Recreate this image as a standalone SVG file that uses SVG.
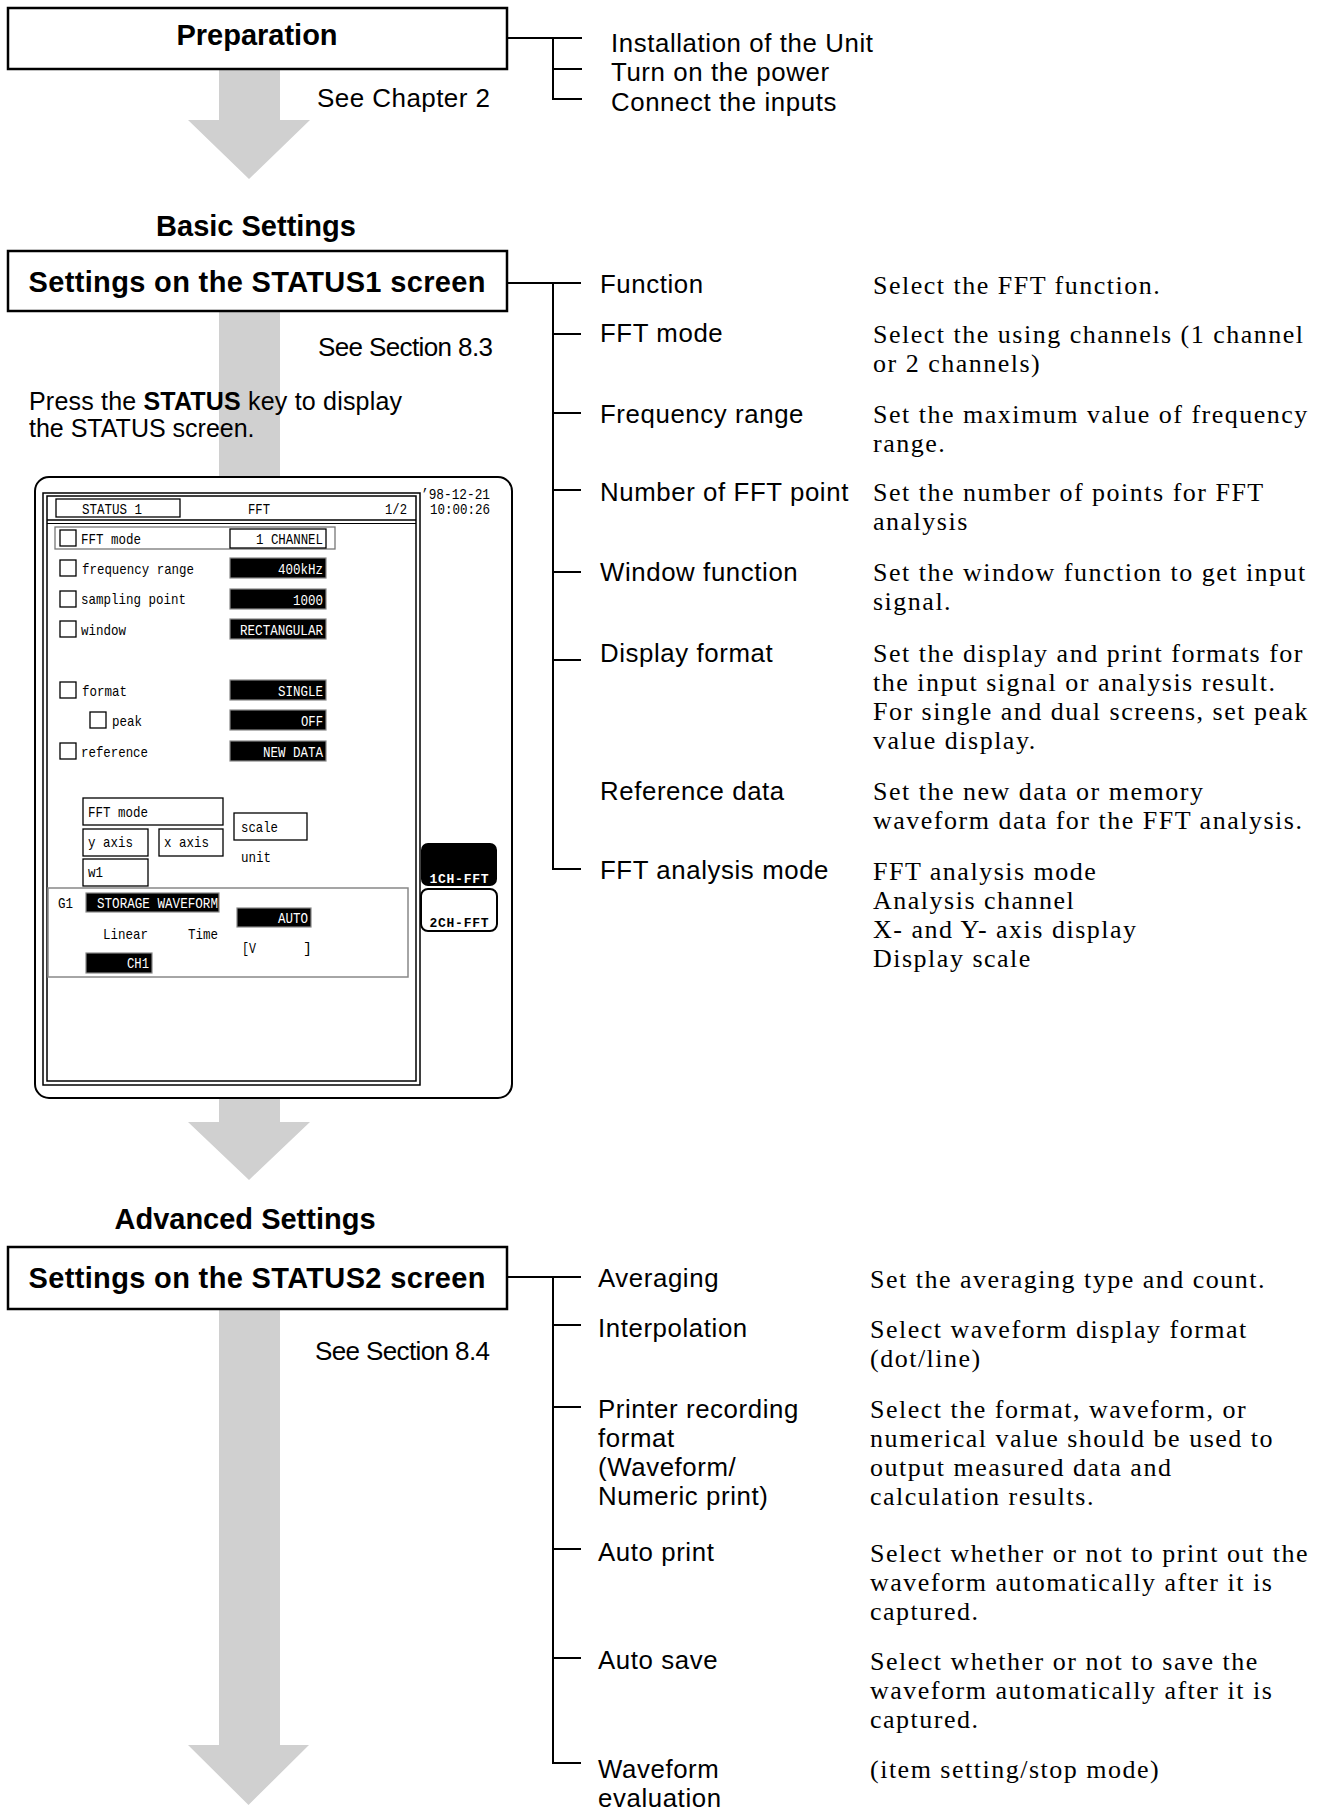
<svg xmlns="http://www.w3.org/2000/svg" width="1330" height="1807" viewBox="0 0 1330 1807">
<style>
.box{fill:#fff;stroke:#000;stroke-width:2.5}
.bt{font-family:"Liberation Sans",Arial,sans-serif;font-weight:bold;font-size:29px;fill:#000;text-anchor:middle}
.lb{font-family:"Liberation Sans",Arial,sans-serif;font-size:25.8px;letter-spacing:0.6px;fill:#000}
.ref{font-family:"Liberation Sans",Arial,sans-serif;font-size:26px;fill:#000}
.ds{font-family:"Liberation Serif","Times New Roman",serif;font-size:26px;letter-spacing:1.5px;fill:#000}
.arr{fill:#d0d0d0}
.con{fill:none;stroke:#000;stroke-width:2}
.sm{font-family:"Liberation Mono","Courier New",monospace;font-size:15px;fill:#000}
.w{fill:#fff}
.e{text-anchor:end}
.cb{fill:#fff;stroke:#000;stroke-width:1.3}
.vb{fill:#000;stroke:#888;stroke-width:1.2}
.fb{fill:#fff;stroke:#000;stroke-width:1.3}
.sk{font-family:"Liberation Mono","Courier New",monospace;font-weight:bold;font-size:13px}
</style>

<!-- gray flow arrows -->
<g id="flow-arrows">
  <polygon class="arr" points="219,69 280,69 280,120 310,120 249,179 188,120 219,120"/>
  <polygon class="arr" points="219,311 280,311 280,1122 310,1122 249,1180 188,1122 219,1122"/>
  <polygon class="arr" points="219,1309 280,1309 280,1745 309,1745 248.5,1805 188,1745 219,1745"/>
</g>

<!-- connectors -->
<g id="connectors">
  <path class="con" d="M507 38H582M553 38V99H582M553 69H582"/>
  <path class="con" d="M507 283H581M553 283V869H581M553 334H581M553 413H581M553 490H581M553 572H581M553 660H581"/>
  <path class="con" d="M507 1277H581M553 1277V1763H581M553 1325H581M553 1407H581M553 1549H581M553 1658H581"/>
</g>

<!-- Preparation -->
<g id="preparation">
  <rect class="box" x="8" y="8" width="499" height="61"/>
  <text class="bt" x="257" y="45">Preparation</text>
  <text class="ref" x="317" y="107" textLength="173">See Chapter 2</text>
</g>
<g id="preparation-items">
  <text class="lb" x="611" y="52">Installation of the Unit</text>
  <text class="lb" x="611" y="81">Turn on the power</text>
  <text class="lb" x="611" y="111">Connect the inputs</text>
</g>

<!-- Basic settings -->
<g id="basic-settings">
  <text class="bt" x="256" y="236">Basic Settings</text>
  <rect class="box" x="8" y="251" width="499" height="60"/>
  <text class="bt" x="257" y="292" textLength="457">Settings on the STATUS1 screen</text>
  <text class="ref" x="318" y="356" textLength="175">See Section 8.3</text>
  <text font-family="'Liberation Sans',Arial,sans-serif" font-size="25" x="29" y="410" textLength="373">Press the <tspan font-weight="bold">STATUS</tspan> key to display</text>
  <text font-family="'Liberation Sans',Arial,sans-serif" font-size="25" x="29" y="437">the STATUS screen.</text>
</g>

<g id="status1-items">
  <text class="lb" x="600" y="293">Function</text>
  <text class="ds" x="873" y="294">Select the FFT function.</text>
  <text class="lb" x="600" y="342">FFT mode</text>
  <text class="ds" x="873" y="343">Select the using channels (1 channel<tspan x="873" dy="29">or 2 channels)</tspan></text>
  <text class="lb" x="600" y="423">Frequency range</text>
  <text class="ds" x="873" y="423">Set the maximum value of frequency<tspan x="873" dy="29">range.</tspan></text>
  <text class="lb" x="600" y="501">Number of FFT point</text>
  <text class="ds" x="873" y="501">Set the number of points for FFT<tspan x="873" dy="29">analysis</tspan></text>
  <text class="lb" x="600" y="581">Window function</text>
  <text class="ds" x="873" y="581">Set the window function to get input<tspan x="873" dy="29">signal.</tspan></text>
  <text class="lb" x="600" y="662">Display format</text>
  <text class="ds" x="873" y="662">Set the display and print formats for<tspan x="873" dy="29">the input signal or analysis result.</tspan><tspan x="873" dy="29">For single and dual screens, set peak</tspan><tspan x="873" dy="29">value display.</tspan></text>
  <text class="lb" x="600" y="800">Reference data</text>
  <text class="ds" x="873" y="800">Set the new data or memory<tspan x="873" dy="29">waveform data for the FFT analysis.</tspan></text>
  <text class="lb" x="600" y="879">FFT analysis mode</text>
  <text class="ds" x="873" y="880">FFT analysis mode<tspan x="873" dy="29">Analysis channel</tspan><tspan x="873" dy="29">X- and Y- axis display</tspan><tspan x="873" dy="29">Display scale</tspan></text>
</g>

<!-- STATUS screen mockup -->
<g id="status-screen">
  <rect x="35" y="477" width="477" height="621" rx="14" fill="#fff" stroke="#000" stroke-width="2"/>
  <rect x="43" y="493" width="377" height="592" fill="none" stroke="#000" stroke-width="1.5"/>
  <rect x="47" y="496" width="369" height="585" fill="none" stroke="#000" stroke-width="1.5"/>
  <line x1="47" y1="520" x2="416" y2="520" stroke="#000" stroke-width="1.5"/>
  <line x1="47" y1="523.5" x2="416" y2="523.5" stroke="#000" stroke-width="1.2"/>
  <rect x="56" y="499" width="124" height="18" fill="none" stroke="#000" stroke-width="1.3"/>
  <text class="sm" x="82" y="514" textLength="60" lengthAdjust="spacingAndGlyphs">STATUS 1</text>
  <text class="sm" x="248" y="514" textLength="22" lengthAdjust="spacingAndGlyphs">FFT</text>
  <text class="sm" x="385" y="514" textLength="22" lengthAdjust="spacingAndGlyphs">1/2</text>
  <text class="sm" x="421" y="499" textLength="69" lengthAdjust="spacingAndGlyphs">’98-12-21</text>
  <text class="sm" x="430" y="514" textLength="60" lengthAdjust="spacingAndGlyphs">10:00:26</text>

  <rect x="55" y="527" width="280" height="22" fill="none" stroke="#777" stroke-width="1.3"/>
  <rect class="fb" x="230" y="529" width="96" height="19" stroke-width="2"/>
  <text class="sm e" x="323" y="544" textLength="67" lengthAdjust="spacingAndGlyphs">1 CHANNEL</text>

  <rect class="cb" x="60" y="530" width="16" height="16"/>
  <text class="sm" x="81" y="544" textLength="60" lengthAdjust="spacingAndGlyphs">FFT mode</text>
  <rect class="cb" x="60" y="560" width="16" height="16"/>
  <text class="sm" x="82" y="574" textLength="112" lengthAdjust="spacingAndGlyphs">frequency range</text>
  <rect class="vb" x="230" y="558" width="96" height="20"/>
  <text class="sm w e" x="323" y="574" textLength="45" lengthAdjust="spacingAndGlyphs">400kHz</text>
  <rect class="cb" x="60" y="591" width="16" height="16"/>
  <text class="sm" x="81" y="604" textLength="105" lengthAdjust="spacingAndGlyphs">sampling point</text>
  <rect class="vb" x="230" y="589" width="96" height="20"/>
  <text class="sm w e" x="323" y="605" textLength="30" lengthAdjust="spacingAndGlyphs">1000</text>
  <rect class="cb" x="60" y="621" width="16" height="16"/>
  <text class="sm" x="81" y="635" textLength="45" lengthAdjust="spacingAndGlyphs">window</text>
  <rect class="vb" x="230" y="619" width="96" height="20"/>
  <text class="sm w e" x="323" y="635" textLength="83" lengthAdjust="spacingAndGlyphs">RECTANGULAR</text>
  <rect class="cb" x="60" y="682" width="16" height="16"/>
  <text class="sm" x="82" y="696" textLength="45" lengthAdjust="spacingAndGlyphs">format</text>
  <rect class="vb" x="230" y="680" width="96" height="20"/>
  <text class="sm w e" x="323" y="696" textLength="45" lengthAdjust="spacingAndGlyphs">SINGLE</text>
  <rect class="cb" x="90" y="712" width="16" height="16"/>
  <text class="sm" x="112" y="726" textLength="30" lengthAdjust="spacingAndGlyphs">peak</text>
  <rect class="vb" x="230" y="710" width="96" height="20"/>
  <text class="sm w e" x="323" y="726" textLength="22" lengthAdjust="spacingAndGlyphs">OFF</text>
  <rect class="cb" x="60" y="743" width="16" height="16"/>
  <text class="sm" x="81" y="757" textLength="67" lengthAdjust="spacingAndGlyphs">reference</text>
  <rect class="vb" x="230" y="741" width="96" height="20"/>
  <text class="sm w e" x="323" y="757" textLength="60" lengthAdjust="spacingAndGlyphs">NEW DATA</text>

  <rect class="fb" x="83" y="798" width="140" height="27"/>
  <text class="sm" x="88" y="817" textLength="60" lengthAdjust="spacingAndGlyphs">FFT mode</text>
  <rect class="fb" x="83" y="829" width="65" height="27"/>
  <text class="sm" x="88" y="847" textLength="45" lengthAdjust="spacingAndGlyphs">y axis</text>
  <rect class="fb" x="159" y="829" width="64" height="27"/>
  <text class="sm" x="164" y="847" textLength="45" lengthAdjust="spacingAndGlyphs">x axis</text>
  <rect class="fb" x="83" y="859" width="65" height="27"/>
  <text class="sm" x="88" y="877" textLength="15" lengthAdjust="spacingAndGlyphs">w1</text>
  <rect class="fb" x="234" y="813" width="73" height="27"/>
  <text class="sm" x="241" y="832" textLength="37" lengthAdjust="spacingAndGlyphs">scale</text>
  <text class="sm" x="241" y="862" textLength="30" lengthAdjust="spacingAndGlyphs">unit</text>

  <rect x="48" y="888" width="360" height="89" fill="none" stroke="#888" stroke-width="1.5"/>
  <text class="sm" x="58" y="908" textLength="15" lengthAdjust="spacingAndGlyphs">G1</text>
  <rect class="vb" x="86" y="893" width="133" height="19"/>
  <text class="sm w" x="97" y="908" textLength="121" lengthAdjust="spacingAndGlyphs">STORAGE WAVEFORM</text>
  <rect class="vb" x="237" y="908" width="74" height="19"/>
  <text class="sm w e" x="308" y="923" textLength="30" lengthAdjust="spacingAndGlyphs">AUTO</text>
  <text class="sm" x="103" y="939" textLength="45" lengthAdjust="spacingAndGlyphs">Linear</text>
  <text class="sm" x="188" y="939" textLength="30" lengthAdjust="spacingAndGlyphs">Time</text>
  <text class="sm" x="242" y="953" textLength="14" lengthAdjust="spacingAndGlyphs">[V</text>
  <text class="sm" x="303" y="953">]</text>
  <rect class="vb" x="86" y="953" width="66" height="20"/>
  <text class="sm w e" x="149" y="968" textLength="22" lengthAdjust="spacingAndGlyphs">CH1</text>

  <rect x="421" y="843" width="76" height="43" rx="7" fill="#000"/>
  <text class="sk" x="459" y="883" fill="#fff" text-anchor="middle" textLength="59" lengthAdjust="spacing">1CH-FFT</text>
  <rect x="421" y="889" width="76" height="42" rx="7" fill="#fff" stroke="#000" stroke-width="2"/>
  <text class="sk" x="459" y="927" fill="#000" text-anchor="middle" textLength="59" lengthAdjust="spacing">2CH-FFT</text>
</g>

<!-- Advanced settings -->
<g id="advanced-settings">
  <text class="bt" x="245" y="1229">Advanced Settings</text>
  <rect class="box" x="8" y="1247" width="499" height="62"/>
  <text class="bt" x="257" y="1288" textLength="457">Settings on the STATUS2 screen</text>
  <text class="ref" x="315" y="1360" textLength="175">See Section 8.4</text>
</g>

<g id="status2-items">
  <text class="lb" x="598" y="1287">Averaging</text>
  <text class="ds" x="870" y="1288">Set the averaging type and count.</text>
  <text class="lb" x="598" y="1337">Interpolation</text>
  <text class="ds" x="870" y="1338">Select waveform display format<tspan x="870" dy="29">(dot/line)</tspan></text>
  <text class="lb" x="598" y="1418">Printer recording<tspan x="598" dy="29">format</tspan><tspan x="598" dy="29">(Waveform/</tspan><tspan x="598" dy="29">Numeric print)</tspan></text>
  <text class="ds" x="870" y="1418">Select the format, waveform, or<tspan x="870" dy="29">numerical value should be used to</tspan><tspan x="870" dy="29">output measured data and</tspan><tspan x="870" dy="29">calculation results.</tspan></text>
  <text class="lb" x="598" y="1561">Auto print</text>
  <text class="ds" x="870" y="1562">Select whether or not to print out the<tspan x="870" dy="29">waveform automatically after it is</tspan><tspan x="870" dy="29">captured.</tspan></text>
  <text class="lb" x="598" y="1669">Auto save</text>
  <text class="ds" x="870" y="1670">Select whether or not to save the<tspan x="870" dy="29">waveform automatically after it is</tspan><tspan x="870" dy="29">captured.</tspan></text>
  <text class="lb" x="598" y="1778">Waveform<tspan x="598" dy="29">evaluation</tspan></text>
  <text class="ds" x="870" y="1778">(item setting/stop mode)</text>
</g>
</svg>
